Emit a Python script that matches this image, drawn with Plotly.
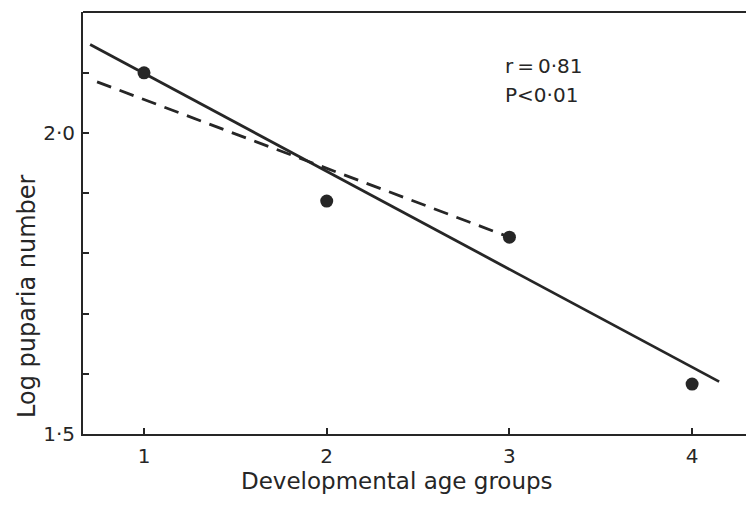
import plotly.graph_objects as go

# Mean log puparia number per developmental age group
age_groups = [1, 2, 3, 4]
log_puparia = [2.10, 1.887, 1.827, 1.583]

# Fitted lines (end points in data units)
fit_all_x = [0.705, 4.148]
fit_all_y = [2.147, 1.587]
fit_early_x = [0.743, 3.0]
fit_early_y = [2.085, 1.827]

y_tick_vals = [1.5, 1.6, 1.7, 1.8, 1.9, 2.0, 2.1, 2.2]
y_tick_text = ["1·5", "", "", "", "", "2·0", "", ""]
x_tick_vals = [1, 2, 3, 4]
x_tick_text = ["1", "2", "3", "4"]

stats_lines = ["r\u2009=\u20090·81", "P<0·01"]

ink = "#262626"
font_family = "DejaVu Sans, sans-serif"

fig = go.Figure()
fig.add_trace(go.Scatter(x=fit_all_x, y=fit_all_y, mode="lines",
                         line=dict(color=ink, width=2.8), hoverinfo="skip"))
fig.add_trace(go.Scatter(x=fit_early_x, y=fit_early_y, mode="lines",
                         line=dict(color=ink, width=2.8, dash="15px,9px"),
                         hoverinfo="skip"))
fig.add_trace(go.Scatter(x=age_groups, y=log_puparia, mode="markers",
                         marker=dict(color=ink, size=13)))

# correlation statistics, one line per annotation
for text, ypos in zip(stats_lines, [0.872, 0.803]):
    fig.add_annotation(x=0.633, y=ypos, xref="paper", yref="paper",
                       xanchor="left", yanchor="middle", align="left",
                       text=text, showarrow=False,
                       font=dict(family=font_family, size=20, color=ink))

# axis titles
fig.add_annotation(x=0.4736, y=-0.111, xref="paper", yref="paper",
                   xanchor="center", yanchor="middle",
                   text="Developmental age groups", showarrow=False,
                   font=dict(family=font_family, size=23, color=ink))
fig.add_annotation(x=-0.0845, y=0.327, xref="paper", yref="paper",
                   xanchor="center", yanchor="middle", textangle=-90,
                   text="Log puparia number", showarrow=False,
                   font=dict(family=font_family, size=24, color=ink))

# top frame line (the right side stays open)
fig.add_shape(type="line", xref="paper", yref="paper", x0=0, x1=1, y0=1, y1=1,
              line=dict(color=ink, width=2))

fig.update_layout(
    width=746, height=505,
    margin=dict(l=83, r=0, t=12, b=71),
    paper_bgcolor="white", plot_bgcolor="white",
    showlegend=False,
    font=dict(family=font_family, size=20, color=ink),
)
fig.update_xaxes(range=[0.666, 4.295], tickvals=x_tick_vals, ticktext=x_tick_text,
                 showgrid=False, zeroline=False, showline=True, linecolor=ink,
                 linewidth=2, ticks="inside", ticklen=6, tickwidth=1.5,
                 tickcolor=ink, ticklabelstandoff=3)
fig.update_yaxes(range=[1.5, 2.201], tickvals=y_tick_vals, ticktext=y_tick_text,
                 showgrid=False, zeroline=False, showline=True, linecolor=ink,
                 linewidth=2, ticks="inside", ticklen=6, tickwidth=1.5,
                 tickcolor=ink, ticklabelstandoff=2)

fig.write_html("out.html")
